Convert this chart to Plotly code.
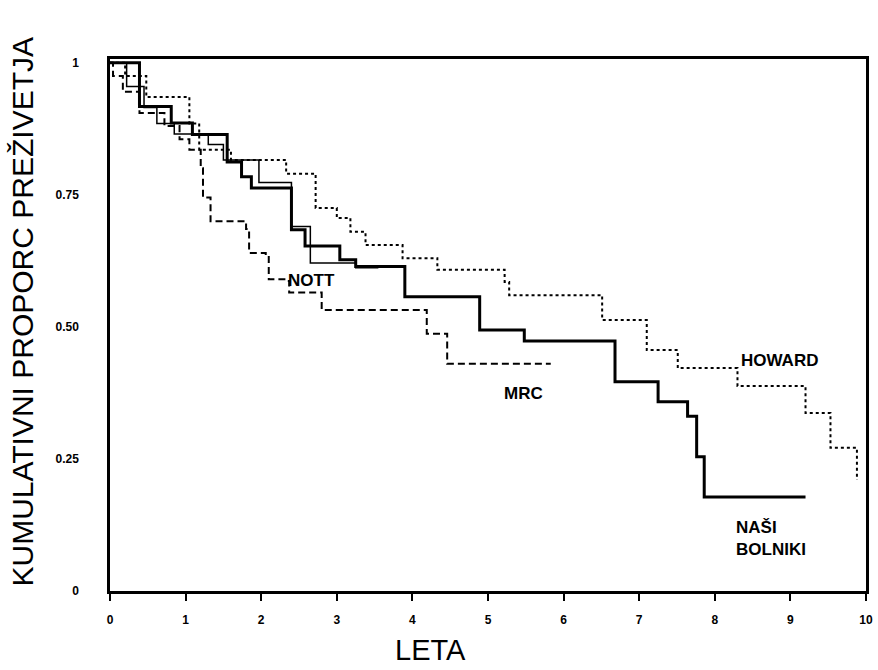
import plotly.graph_objects as go

# NAŠI BOLNIKI (thick solid)
nasi_x = [0, 0.39, 0.81, 1.09, 1.55, 1.74, 1.87, 2.40, 2.58, 3.04, 3.25, 3.90, 4.89, 5.48, 6.68, 7.25, 7.64, 7.76, 7.86, 9.20]
nasi_y = [1.0, 0.917, 0.886, 0.864, 0.812, 0.784, 0.763, 0.684, 0.653, 0.627, 0.614, 0.557, 0.494, 0.473, 0.396, 0.358, 0.331, 0.254, 0.178, 0.178]

# NOTT (thin solid)
nott_x = [0, 0.22, 0.45, 0.62, 0.85, 1.30, 1.50, 1.97, 2.40, 2.65, 3.25, 3.55]
nott_y = [1.0, 0.955, 0.915, 0.885, 0.865, 0.845, 0.816, 0.773, 0.690, 0.621, 0.612, 0.612]

# MRC (dashed)
mrc_x = [0, 0.04, 0.17, 0.39, 0.72, 0.92, 1.05, 1.20, 1.23, 1.33, 1.80, 1.84, 2.06, 2.10, 2.33, 2.37, 2.80, 4.19, 4.46, 5.83]
mrc_y = [1.0, 0.975, 0.945, 0.905, 0.880, 0.855, 0.835, 0.800, 0.745, 0.700, 0.685, 0.640, 0.635, 0.590, 0.587, 0.565, 0.532, 0.487, 0.430, 0.430]

# HOWARD (dotted)
howard_x = [0, 0.20, 0.48, 1.05, 1.18, 1.60, 2.33, 2.72, 3.00, 3.18, 3.38, 3.87, 4.33, 5.22, 5.28, 6.51, 7.10, 7.51, 8.30, 9.20, 9.53, 9.88]
howard_y = [1.0, 0.975, 0.935, 0.885, 0.835, 0.816, 0.790, 0.725, 0.706, 0.680, 0.655, 0.630, 0.608, 0.585, 0.560, 0.513, 0.456, 0.422, 0.388, 0.337, 0.271, 0.210]

x_ticks = [0, 1, 2, 3, 4, 5, 6, 7, 8, 9, 10]
y_ticks = [0, 0.25, 0.5, 0.75, 1]
y_tick_labels = ["0", "0.25", "0.50", "0.75", "1"]

labels = [("NOTT", 2.66, 0.587, "center"), ("MRC", 5.47, 0.373, "center"),
          ("HOWARD", 8.86, 0.436, "center")]

fig = go.Figure()
fig.add_trace(go.Scatter(x=howard_x, y=howard_y, mode="lines", line_shape="hv",
                         line=dict(color="black", width=2, dash="3px,3px")))
fig.add_trace(go.Scatter(x=mrc_x, y=mrc_y, mode="lines", line_shape="hv",
                         line=dict(color="black", width=2, dash="7px,4px")))
fig.add_trace(go.Scatter(x=nott_x, y=nott_y, mode="lines", line_shape="hv",
                         line=dict(color="black", width=1.5)))
fig.add_trace(go.Scatter(x=nasi_x, y=nasi_y, mode="lines", line_shape="hv",
                         line=dict(color="black", width=3)))

lab_font = dict(family="Liberation Sans, Arial", size=17, color="black")
for t, x, y, a in labels:
    fig.add_annotation(x=x, y=y, text="<b>%s</b>" % t, showarrow=False, font=lab_font,
                       xanchor=a, yanchor="middle")
fig.add_annotation(x=8.26, y=0.10, text="<b>NAŠI<br>BOLNIKI</b>", showarrow=False,
                   font=lab_font, xanchor="left", yanchor="middle", align="left")

fig.add_annotation(xref="paper", yref="paper", x=-0.1153, y=0.525,
                   text="KUMULATIVNI PROPORC PREŽIVETJA", textangle=-90, showarrow=False,
                   font=dict(family="Liberation Sans, Arial", size=30, color="black"),
                   xanchor="center", yanchor="middle")
fig.add_annotation(xref="paper", yref="paper", x=0.424, y=-0.11,
                   text="LETA", showarrow=False,
                   font=dict(family="Liberation Sans, Arial", size=29, color="black"),
                   xanchor="center", yanchor="middle")

fig.update_layout(
    width=878, height=670, margin=dict(l=110, r=5, t=59, b=79),
    paper_bgcolor="white", plot_bgcolor="white", showlegend=False,
    xaxis=dict(range=[0, 10], tickvals=x_ticks, showgrid=False, zeroline=False,
               showline=True, linecolor="black", linewidth=2.5, mirror=True,
               ticks="outside", ticklen=7, tickwidth=2, tickcolor="black",
               tickfont=dict(family="Liberation Sans, Arial", size=12, color="black"),
               ticklabelstandoff=9),
    yaxis=dict(range=[0, 1.007], tickvals=y_ticks, ticktext=["<b>%s</b>" % s for s in y_tick_labels],
               showgrid=False, zeroline=False,
               showline=True, linecolor="black", linewidth=2.5, mirror=True,
               ticks="", tickfont=dict(family="Liberation Sans, Arial", size=12, color="black"),
               ticklabelstandoff=26),
)
fig.update_xaxes(ticktext=["<b>%d</b>" % v for v in x_ticks])
fig.write_html("out.html")
